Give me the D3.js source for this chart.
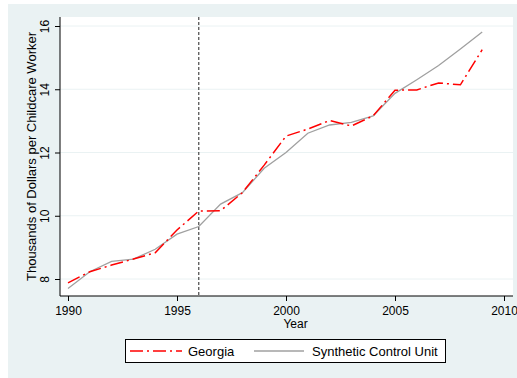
<!DOCTYPE html>
<html>
<head>
<meta charset="utf-8">
<script src="https://cdn.jsdelivr.net/npm/d3@7"></script>
<style>
  body { margin: 0; background: #fff; }
  text { font-family: "Liberation Sans", Arial, sans-serif; fill: #000; }
</style>
</head>
<body>
<div id="chart"></div>
<script>
// Data
const years = d3.range(1990, 2010);
const georgia = [7.88, 8.23, 8.44, 8.63, 8.83, 9.55, 10.15, 10.16, 10.73, 11.6,
                 12.52, 12.74, 13.01, 12.84, 13.16, 13.97, 13.98, 14.2, 14.14, 15.25];
const synthetic = [7.70, 8.23, 8.56, 8.63, 8.94, 9.42, 9.66, 10.37, 10.73, 11.5,
                   12.0, 12.61, 12.87, 12.95, 13.16, 13.87, 14.3, 14.75, 15.27, 15.81];
const xTicks = [1990, 1995, 2000, 2005, 2010];
const yTicks = [8, 10, 12, 14, 16];
const treatmentYear = 1996;

const width = 517, height = 378;

const svg = d3.select("#chart")
    .append("svg")
    .attr("width", width)
    .attr("height", height);

// Outer graph region
svg.append("rect")
    .attr("x", 8).attr("y", 4)
    .attr("width", width - 8).attr("height", height - 4)
    .attr("fill", "#eaf2f3");

// Plot region
const plot = { left: 60, right: 513, top: 17, bottom: 296 };
svg.append("rect")
    .attr("x", plot.left).attr("y", plot.top)
    .attr("width", plot.right - plot.left)
    .attr("height", plot.bottom - plot.top)
    .attr("fill", "#fff");

const xScale = d3.scaleLinear().domain([1990, 2010]).range([68, 504]);
const yScale = d3.scaleLinear().domain([8, 16]).range([279, 26]);

// Grid lines
svg.append("g")
    .selectAll("line")
    .data(yTicks)
    .join("line")
    .attr("x1", plot.left).attr("x2", plot.right)
    .attr("y1", d => yScale(d)).attr("y2", d => yScale(d))
    .attr("stroke", "#eaf2f3")
    .attr("stroke-width", 1);

// Axes
const xAxis = svg.append("g")
    .attr("transform", `translate(0,${plot.bottom})`)
    .call(d3.axisBottom(xScale).tickValues(xTicks).tickFormat(d3.format("d")).tickSize(5).tickSizeOuter(0));
xAxis.select(".domain").attr("d", `M${plot.left},0H${plot.right}`);
xAxis.selectAll("text").attr("font-size", 12).attr("dy", "0.95em");

const yAxis = svg.append("g")
    .attr("transform", `translate(${plot.left},0)`)
    .call(d3.axisLeft(yScale).tickValues(yTicks).tickSize(5).tickSizeOuter(0));
yAxis.select(".domain").attr("d", `M0,${plot.top}V${plot.bottom}`);
// rotated tick labels, as in the reference
yAxis.selectAll("text")
    .attr("font-size", 12)
    .attr("text-anchor", "middle")
    .attr("x", 0).attr("y", 0).attr("dy", 0)
    .attr("transform", "translate(-10.7,0) rotate(-90)");
svg.selectAll(".domain, .tick line").attr("stroke", "#000");

// Axis titles
svg.append("text")
    .text("Year")
    .attr("text-anchor", "middle")
    .attr("x", (plot.left + plot.right) / 2 + 9)
    .attr("y", 328)
    .attr("font-size", 12);

svg.append("text")
    .text("Thousands of Dollars per Childcare Worker")
    .attr("text-anchor", "middle")
    .attr("transform", `translate(35.5,${(plot.top + plot.bottom) / 2}) rotate(-90)`)
    .attr("font-size", 13);

// Treatment line
svg.append("line")
    .attr("x1", xScale(treatmentYear)).attr("x2", xScale(treatmentYear))
    .attr("y1", plot.top).attr("y2", plot.bottom)
    .attr("stroke", "#222")
    .attr("stroke-width", 1)
    .attr("stroke-dasharray", "3,2");

// Series lines
const line = d3.line()
    .x((d, i) => xScale(years[i]))
    .y(d => yScale(d));

svg.append("path")
    .datum(synthetic)
    .attr("d", line)
    .attr("fill", "none")
    .attr("stroke", "#a0a0a0")
    .attr("stroke-width", 1.3);

svg.append("path")
    .datum(georgia)
    .attr("d", line)
    .attr("fill", "none")
    .attr("stroke", "#ff0000")
    .attr("stroke-width", 1.5)
    .attr("stroke-dasharray", "13,4,2,4");

// Legend
const legend = svg.append("g");
legend.append("rect")
    .attr("x", 125.5).attr("y", 339.5)
    .attr("width", 320).attr("height", 23)
    .attr("fill", "#fff")
    .attr("stroke", "#000");

const legendItems = [
    { label: "Georgia", color: "#ff0000", dash: "13,4,2,4", x1: 130, x2: 182, tx: 188, w: 1.5 },
    { label: "Synthetic Control Unit", color: "#a0a0a0", dash: null, x1: 254, x2: 304, tx: 312, w: 1.3 }
];
legendItems.forEach(item => {
    legend.append("line")
        .attr("x1", item.x1).attr("x2", item.x2)
        .attr("y1", 351).attr("y2", 351)
        .attr("stroke", item.color)
        .attr("stroke-width", item.w)
        .attr("stroke-dasharray", item.dash);
    legend.append("text")
        .text(item.label)
        .attr("x", item.tx)
        .attr("y", 355.5)
        .attr("font-size", 13);
});
</script>
</body>
</html>
